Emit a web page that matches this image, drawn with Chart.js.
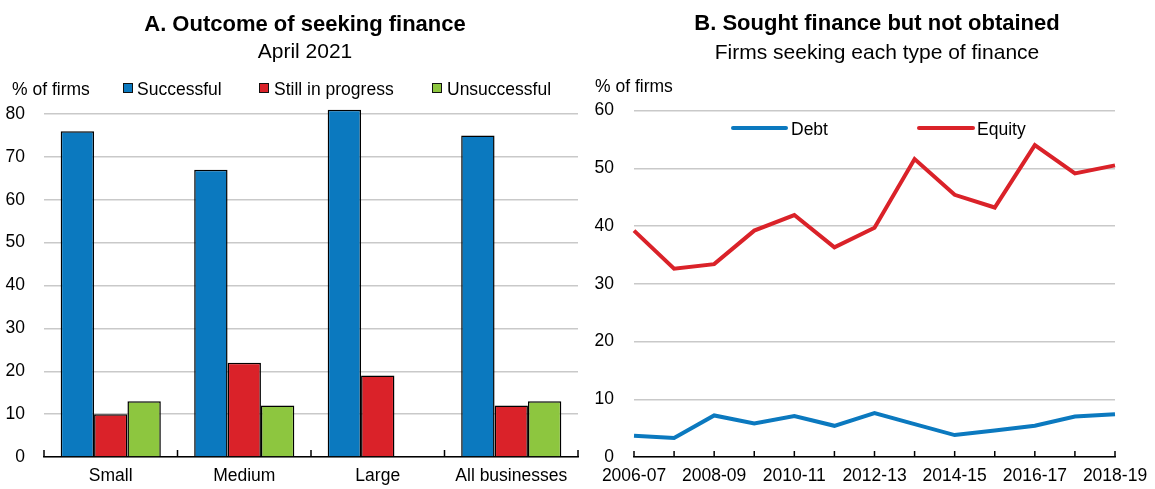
<!DOCTYPE html>
<html>
<head>
<meta charset="utf-8">
<script src="https://cdn.jsdelivr.net/npm/chart.js@4/dist/chart.umd.min.js"></script>
<style>
  html, body { margin: 0; padding: 0; background: #fff; }
  #wrap { position: relative; width: 1155px; height: 489px; }
  #cA { position: absolute; left: 0; top: 0; }
  #cB { position: absolute; left: 580px; top: 0; }
</style>
</head>
<body>
<div id="wrap">
  <canvas id="cA" width="580" height="489"></canvas>
  <canvas id="cB" width="575" height="489"></canvas>
</div>
<script>
// ---------- Panel A data ----------
const sizeCategories = ['Small', 'Medium', 'Large', 'All businesses'];
const successful = [76, 67, 81, 75];
const stillInProgress = [10, 22, 19, 12];
const unsuccessful = [13, 12, null, 13];
const yTicksA = [0, 10, 20, 30, 40, 50, 60, 70, 80];

// ---------- Panel B data ----------
const years = ['2006-07','2007-08','2008-09','2009-10','2010-11','2011-12','2012-13',
               '2013-14','2014-15','2015-16','2016-17','2017-18','2018-19'];
const debt   = [3.7, 3.3, 7.2, 5.8, 7.1, 5.4, 7.6, 5.7, 3.8, 4.6, 5.4, 7.0, 7.4];
const equity = [39.2, 32.6, 33.4, 39.2, 41.9, 36.3, 39.7, 51.6, 45.4, 43.2, 54.0, 49.1, 50.5];
const yTicksB = [0, 10, 20, 30, 40, 50, 60];

const FONT = "'Liberation Sans', Arial, sans-serif";
const BLUE = '#0B79BF', RED = '#DA2229', GREEN = '#8DC63F', GRID = '#C9C9C9';
Chart.defaults.font.family = FONT;
Chart.defaults.font.size = 17.5;
Chart.defaults.color = '#000';

function drawText(ctx, txt, x, y, font, align) {
  ctx.save();
  ctx.font = font;
  ctx.fillStyle = '#000';
  ctx.textAlign = align || 'left';
  ctx.textBaseline = 'alphabetic';
  ctx.fillText(txt, x, y);
  ctx.restore();
}

// ---------- Panel A ----------
const panelAPlugin = {
  id: 'panelA',
  afterDraw(chart) {
    const ctx = chart.ctx;
    drawText(ctx, 'A. Outcome of seeking finance', 305, 31, "bold 22px " + FONT, 'center');
    drawText(ctx, 'April 2021', 305, 58, "21px " + FONT, 'center');
    drawText(ctx, '% of firms', 12, 95, "17.5px " + FONT);
    const items = [
      {box: 123, text: 137, ds: 0},
      {box: 259, text: 274, ds: 1},
      {box: 432, text: 447, ds: 2}
    ];
    items.forEach(it => {
      const ds = chart.data.datasets[it.ds];
      ctx.save();
      ctx.fillStyle = ds.backgroundColor;
      ctx.fillRect(it.box, 83, 10, 10);
      ctx.strokeStyle = '#111';
      ctx.lineWidth = 1;
      ctx.strokeRect(it.box + 0.5, 83.5, 9, 9);
      ctx.restore();
      drawText(ctx, ds.label, it.text, 95, "17.5px " + FONT);
    });
    // category boundary tick marks (inward)
    const xs = chart.scales.x, area = chart.chartArea;
    const n = xs.ticks.length;
    ctx.save();
    ctx.strokeStyle = '#000';
    ctx.lineWidth = 1.5;
    for (let i = 0; i <= n; i++) {
      const x = area.left + i * (area.right - area.left) / n;
      ctx.beginPath();
      ctx.moveTo(x, area.bottom - 7);
      ctx.lineTo(x, area.bottom);
      ctx.stroke();
    }
    ctx.restore();
  }
};

new Chart(document.getElementById('cA'), {
  type: 'bar',
  data: {
    labels: sizeCategories,
    datasets: [
      {label: 'Successful', data: successful, backgroundColor: BLUE},
      {label: 'Still in progress', data: stillInProgress, backgroundColor: RED},
      {label: 'Unsuccessful', data: unsuccessful, backgroundColor: GREEN}
    ]
  },
  options: {
    responsive: false,
    animation: false,
    devicePixelRatio: 1,
    layout: {padding: {top: 114, left: 0, right: 2, bottom: 0}},
    datasets: {bar: {categoryPercentage: 0.75, barPercentage: 1.0, borderColor: '#000', borderWidth: 1.5, clip: false}},
    plugins: {legend: {display: false}, tooltip: {enabled: false}},
    scales: {
      x: {
        grid: {display: false},
        border: {display: true, color: '#000', width: 1.5},
        ticks: {padding: 1, font: {size: 17.5}, color: '#000', maxRotation: 0},
        afterFit(s) { s.height = 32; }
      },
      y: {
        min: 0, max: 80,
        afterBuildTicks(s) { s.ticks = yTicksA.map(v => ({value: v})); },
        grid: {color: GRID, lineWidth: 1.5, drawTicks: false},
        border: {display: false},
        ticks: {padding: 19, font: {size: 17.5}, color: '#000'},
        afterFit(s) { s.width = 44; }
      }
    }
  },
  plugins: [panelAPlugin]
});

// ---------- Panel B ----------
const panelBPlugin = {
  id: 'panelB',
  afterDraw(chart) {
    const ctx = chart.ctx;
    drawText(ctx, 'B. Sought finance but not obtained', 297, 30, "bold 22px " + FONT, 'center');
    drawText(ctx, 'Firms seeking each type of finance', 297, 59, "21px " + FONT, 'center');
    drawText(ctx, '% of firms', 15, 92, "17.5px " + FONT);
    const items = [
      {x0: 153, x1: 206, text: 211, ds: 0},
      {x0: 339, x1: 393, text: 397, ds: 1}
    ];
    items.forEach(it => {
      const ds = chart.data.datasets[it.ds];
      ctx.save();
      ctx.strokeStyle = ds.borderColor;
      ctx.lineWidth = 4;
      ctx.lineCap = 'round';
      ctx.beginPath();
      ctx.moveTo(it.x0, 128);
      ctx.lineTo(it.x1, 128);
      ctx.stroke();
      ctx.restore();
      drawText(ctx, ds.label, it.text, 135, "17.5px " + FONT);
    });
    const xs = chart.scales.x, area = chart.chartArea;
    ctx.save();
    ctx.strokeStyle = '#000';
    ctx.lineWidth = 1.5;
    for (let i = 0; i < xs.ticks.length; i++) {
      const x = xs.getPixelForTick(i);
      ctx.beginPath();
      ctx.moveTo(x, area.bottom - 6);
      ctx.lineTo(x, area.bottom);
      ctx.stroke();
    }
    ctx.restore();
  }
};

new Chart(document.getElementById('cB'), {
  type: 'line',
  data: {
    labels: years,
    datasets: [
      {label: 'Debt', data: debt, borderColor: BLUE, backgroundColor: BLUE},
      {label: 'Equity', data: equity, borderColor: RED, backgroundColor: RED}
    ]
  },
  options: {
    responsive: false,
    animation: false,
    devicePixelRatio: 1,
    layout: {padding: {top: 110.5, left: 0, right: 40, bottom: 0}},
    datasets: {line: {borderWidth: 4, pointRadius: 0, tension: 0, borderJoinStyle: 'miter'}},
    plugins: {legend: {display: false}, tooltip: {enabled: false}},
    scales: {
      x: {
        offset: false,
        grid: {display: false},
        border: {display: true, color: '#000', width: 1.5},
        ticks: {
          padding: 1, autoSkip: false, maxRotation: 0, font: {size: 17.5}, color: '#000',
          callback(v, i) { return i % 2 === 0 ? this.getLabelForValue(v) : ''; }
        },
        afterFit(s) { s.height = 32; }
      },
      y: {
        min: 0, max: 60,
        afterBuildTicks(s) { s.ticks = yTicksB.map(v => ({value: v})); },
        grid: {color: GRID, lineWidth: 1.5, drawTicks: false},
        border: {display: false},
        ticks: {padding: 20, font: {size: 17.5}, color: '#000'},
        afterFit(s) { s.width = 54; }
      }
    }
  },
  plugins: [panelBPlugin]
});
</script>
</body>
</html>
